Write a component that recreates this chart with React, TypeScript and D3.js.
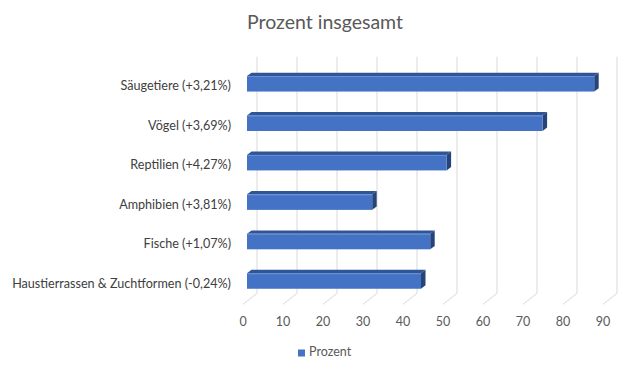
import React from "react";
import * as d3 from "d3";

const categories = [
  "Säugetiere (+3,21%)",
  "Vögel (+3,69%)",
  "Reptilien (+4,27%)",
  "Amphibien (+3,81%)",
  "Fische (+1,07%)",
  "Haustierrassen & Zuchtformen (-0,24%)",
];
const values = [86.8, 73.9, 49.9, 31.3, 45.8, 43.5];
const ticks = [0, 10, 20, 30, 40, 50, 60, 70, 80, 90];
const title = "Prozent insgesamt";
const seriesName = "Prozent";

const W = 643;
const H = 372;
const FONT = "Lato, 'Open Sans', sans-serif";

export default function App() {
  const x = d3.scaleLinear().domain([0, 90]).range([243, 603]);
  const y = d3.scalePoint<string>().domain(categories).range([83.8, 281]);
  const backDx = 14;
  const floorTop = 293.3;
  const floorFront = 304.3;
  const barOff = 4;
  const barH = 15.5;
  const dX = 4.5;
  const dY = 3.4;

  return (
    <svg width={W} height={H} style={{ position: "absolute", left: 0, top: 0, background: "#fff" }}>
      <text x={325} y={29} textAnchor="middle" fontFamily={FONT} fontSize={19.5} fill="#595959">
        {title}
      </text>
      {ticks.map((t) => (
        <g key={t}>
          <polyline
            points={`${x(t) + backDx},56.7 ${x(t) + backDx},${floorTop} ${x(t)},${floorFront}`}
            fill="none"
            stroke="#D9D9D9"
            strokeWidth={1}
          />
          <text x={x(t)} y={326} textAnchor="middle" fontFamily={FONT} fontSize={12.5} fill="#595959">
            {t}
          </text>
        </g>
      ))}
      {categories.map((c, i) => {
        const cy = y(c)!;
        const y0 = cy - barH / 2;
        const x0 = x(0) + barOff;
        const x1 = x(values[i]) + barOff;
        return (
          <g key={c}>
            <polygon
              points={`${x0},${y0} ${x0 + dX},${y0 - dY} ${x1 + dX},${y0 - dY} ${x1},${y0}`}
              fill="#2F5597"
            />
            <polygon
              points={`${x1},${y0} ${x1 + dX},${y0 - dY} ${x1 + dX},${y0 + barH - dY} ${x1},${y0 + barH}`}
              fill="#264478"
            />
            <rect x={x0} y={y0} width={x1 - x0} height={barH} fill="#4472C4" />
            <line x1={x0} y1={y0 + 0.5} x2={x1} y2={y0 + 0.5} stroke="#6A8FD3" strokeWidth={1} />
            <text
              x={231}
              y={cy + 3.5}
              textAnchor="end"
              dominantBaseline="middle"
              fontFamily={FONT}
              fontSize={12.6}
              fill="#404040"
            >
              {c}
            </text>
          </g>
        );
      })}
      <rect x={298} y={349.5} width={7} height={7} fill="#4472C4" />
      <text x={309} y={353} dominantBaseline="middle" fontFamily={FONT} fontSize={12.5} fill="#595959">
        {seriesName}
      </text>
    </svg>
  );
}
